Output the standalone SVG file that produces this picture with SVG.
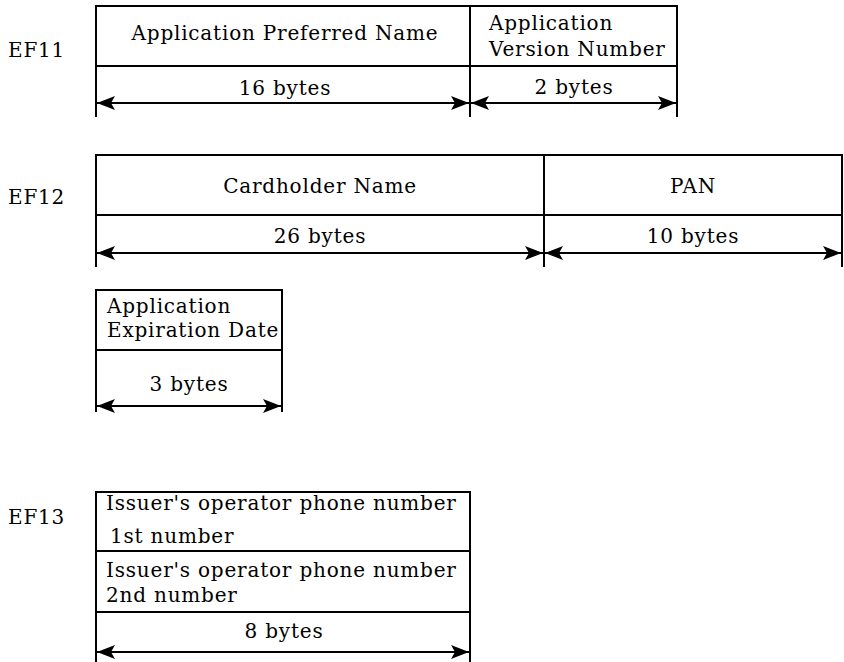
<svg xmlns="http://www.w3.org/2000/svg" width="844" height="662" viewBox="0 0 844 662">
  <style>
    text { font-family: "DejaVu Serif", "Liberation Serif", serif; font-size: 20px; letter-spacing: 0.8px; fill: #000; }
    .c { text-anchor: middle; }
    .frame { fill: none; stroke: #000; stroke-width: 2; }
    .dim { stroke: #000; stroke-width: 2; marker-start: url(#tip); marker-end: url(#tip); }
  </style>
  <defs>
    <marker id="tip" viewBox="0 0 18 14" refX="18" refY="7" markerWidth="18" markerHeight="14" markerUnits="userSpaceOnUse" orient="auto-start-reverse">
      <path d="M0,0 L18,7 L0,14 L4,7 Z" fill="#000"/>
    </marker>
  </defs>

  <rect width="844" height="662" fill="#fff"/>

  <!-- EF11 -->
  <g id="ef11">
    <text x="8" y="57">EF11</text>
    <path class="frame" d="M96,117 V6 H677 V117 M96,66 H677 M470,6 V117"/>
    <text class="c" x="285" y="40">Application Preferred Name</text>
    <text x="489" y="30">Application</text>
    <text x="489" y="56">Version Number</text>
    <text class="c" x="285" y="95">16 bytes</text>
    <text class="c" x="574" y="94">2 bytes</text>
  </g>

  <!-- EF12 -->
  <g id="ef12">
    <text x="8" y="204">EF12</text>
    <path class="frame" d="M96,267 V155 H842 V267 M96,215 H842 M544,155 V267"/>
    <text class="c" x="320" y="193">Cardholder Name</text>
    <text class="c" x="693" y="193">PAN</text>
    <text class="c" x="320" y="243">26 bytes</text>
    <text class="c" x="693" y="243">10 bytes</text>
  </g>

  <!-- Application Expiration Date -->
  <g id="expiry">
    <path class="frame" d="M96,412 V290 H282 V412 M96,350 H282"/>
    <text x="107" y="313">Application</text>
    <text x="107" y="337">Expiration Date</text>
    <text class="c" x="189" y="391">3 bytes</text>
  </g>

  <!-- EF13 -->
  <g id="ef13">
    <text x="8" y="524">EF13</text>
    <path class="frame" d="M96,662 V492 H470 V662 M96,551 H470 M96,612 H470"/>
    <text x="106" y="510">Issuer's operator phone number</text>
    <text x="110" y="543">1st number</text>
    <text x="106" y="577">Issuer's operator phone number</text>
    <text x="106" y="602">2nd number</text>
    <text class="c" x="284" y="638">8 bytes</text>
  </g>

  <!-- byte-length dimension arrows -->
  <g id="connectors">
    <line class="dim" x1="97" y1="103" x2="469" y2="103"/>
    <line class="dim" x1="471" y1="103" x2="676" y2="103"/>
    <line class="dim" x1="97" y1="253" x2="543" y2="253"/>
    <line class="dim" x1="545" y1="253" x2="841" y2="253"/>
    <line class="dim" x1="97" y1="406" x2="281" y2="406"/>
    <line class="dim" x1="97" y1="652" x2="469" y2="652"/>
  </g>
</svg>
